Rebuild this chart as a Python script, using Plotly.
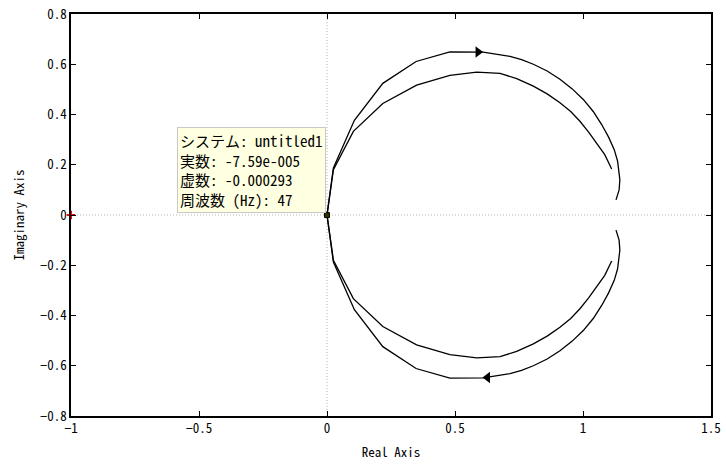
import plotly.graph_objects as go

# Outer Nyquist branch (upper half, mirrored for lower half)
outer_re = [0, 0.025, 0.107, 0.218, 0.348, 0.480, 0.610, 0.676, 0.715, 0.760, 0.806, 0.860, 0.910, 0.958, 1.001, 1.040, 1.073, 1.100, 1.122, 1.135, 1.142, 1.144, 1.141, 1.129]
outer_im = [0, 0.187, 0.377, 0.524, 0.611, 0.649, 0.648, 0.637, 0.631, 0.618, 0.600, 0.573, 0.540, 0.502, 0.460, 0.412, 0.360, 0.310, 0.260, 0.215, 0.170, 0.140, 0.100, 0.060]

# Inner Nyquist branch (upper half, mirrored for lower half)
inner_re = [0, 0.025, 0.103, 0.218, 0.350, 0.480, 0.585, 0.676, 0.741, 0.806, 0.860, 0.910, 0.952, 0.988, 1.022, 1.053, 1.085, 1.112]
inner_im = [0, 0.180, 0.333, 0.444, 0.517, 0.556, 0.569, 0.564, 0.543, 0.513, 0.482, 0.447, 0.412, 0.373, 0.330, 0.287, 0.240, 0.183]

# Direction arrows
arrow_re = [0.590, 0.627]
arrow_im = [0.649, -0.647]
arrow_sym = ["triangle-right", "triangle-left"]

# Critical point and data tip
crit_re, crit_im = [-1], [0]
tip_re, tip_im = [-7.59e-005], [-0.000293]
tip_lines = ["システム: untitled1", "実数: -7.59e-005", "虚数: -0.000293", "周波数 (Hz): 47"]

FONT = "Noto Sans Mono CJK JP, Noto Sans CJK JP, monospace"

fig = go.Figure()
line = dict(color="black", width=1.3)
for re_, im_ in [(outer_re, outer_im), (inner_re, inner_im)]:
    fig.add_trace(go.Scatter(x=re_, y=im_, mode="lines", line=line, hoverinfo="skip"))
    fig.add_trace(go.Scatter(x=re_, y=[-v for v in im_], mode="lines", line=line, hoverinfo="skip"))

fig.add_trace(go.Scatter(x=arrow_re, y=arrow_im, mode="markers",
                         marker=dict(symbol=arrow_sym, size=10, color="black"), hoverinfo="skip"))
fig.add_trace(go.Scatter(x=crit_re, y=crit_im, mode="markers", cliponaxis=False,
                         marker=dict(symbol="cross-thin", size=6, line=dict(color="red", width=2)), hoverinfo="skip"))
fig.add_trace(go.Scatter(x=tip_re, y=tip_im, mode="markers",
                         marker=dict(symbol="square", size=5, color="#333300", line=dict(color="black", width=1)), hoverinfo="skip"))

# dotted zero lines
fig.add_shape(type="line", xref="x", yref="paper", x0=0, x1=0, y0=0, y1=1,
              line=dict(color="#b4b4b4", width=1, dash="1px,2px"), layer="below")
fig.add_shape(type="line", xref="paper", yref="y", x0=0, x1=1, y0=0, y1=0,
              line=dict(color="#b4b4b4", width=1, dash="1px,2px"), layer="below")

txt = "<br>".join(f"<span style='font-size:15px'>{t}</span>" for t in tip_lines)
fig.add_annotation(x=tip_re[0], y=tip_im[0], xref="x", yref="y", text=txt, showarrow=False,
                   xanchor="right", yanchor="bottom", xshift=-1, yshift=2, align="left",
                   font=dict(family=FONT, size=15, color="black"),
                   bgcolor="#ffffe1", bordercolor="#c8c8c8", borderwidth=1, borderpad=2)

axis_common = dict(showgrid=False, zeroline=False, showline=True, linecolor="black", linewidth=1.5,
                   mirror="ticks", ticks="inside", ticklen=5, tickcolor="black", automargin=False,
                   tickfont=dict(family=FONT, size=13, color="black"))
fig.update_layout(
    width=726, height=466, margin=dict(l=71, r=15, t=14, b=50),
    paper_bgcolor="white", plot_bgcolor="white", showlegend=False,
    xaxis=dict(range=[-1, 1.5], dtick=0.5, title=dict(text="Real Axis", font=dict(family=FONT, size=13, color="black"), standoff=12), **axis_common),
    yaxis=dict(range=[-0.8, 0.8], dtick=0.2, title=dict(text="Imaginary Axis", font=dict(family=FONT, size=13, color="black"), standoff=12), **axis_common),
)
fig.write_html("out.html")
